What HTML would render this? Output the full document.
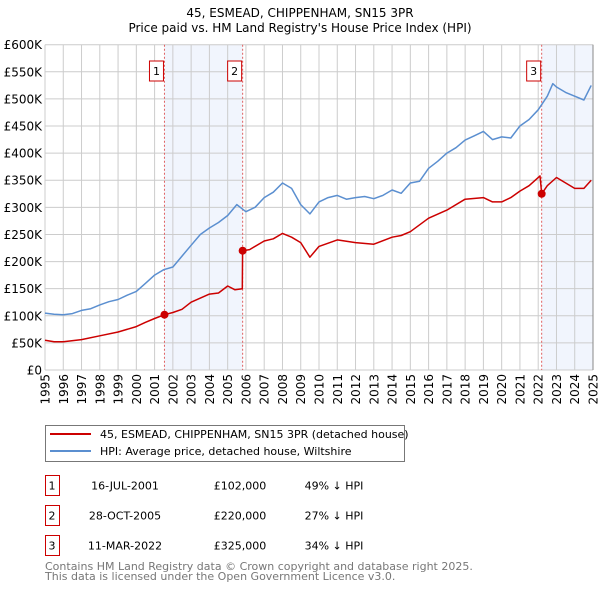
<!DOCTYPE html>
<html><head><meta charset="utf-8"><style>
body{margin:0;background:#fff;}
svg{display:block;font-family:"DejaVu Sans","Liberation Sans",sans-serif;}
</style></head><body>
<svg id="c" width="600" height="590"></svg>
<script>
const hpiYears=[1995,1995.5,1996,1996.5,1997,1997.5,1998,1998.5,1999,1999.5,2000,2000.5,2001,2001.5,2002,2002.5,2003,2003.5,2004,2004.5,2005,2005.5,2006,2006.5,2007,2007.5,2008,2008.5,2009,2009.5,2010,2010.5,2011,2011.5,2012,2012.5,2013,2013.5,2014,2014.5,2015,2015.5,2016,2016.5,2017,2017.5,2018,2018.5,2019,2019.5,2020,2020.5,2021,2021.5,2022,2022.5,2022.8,2023,2023.5,2024,2024.5,2024.9];
const hpiValues=[105,103,102,104,110,113,120,126,130,138,145,160,175,185,190,210,230,250,262,272,285,305,292,300,318,328,345,335,305,288,310,318,322,315,318,320,316,322,332,326,345,348,372,385,400,410,424,432,440,425,430,428,450,462,480,505,528,522,512,505,498,525];
const ppYears=[1995,1995.5,1996,1997,1998,1999,2000,2000.5,2001,2001.54,2002,2002.5,2003,2004,2004.5,2005,2005.4,2005.8,2005.82,2006.2,2007,2007.5,2008,2008.5,2009,2009.5,2010,2011,2012,2013,2014,2014.5,2015,2016,2017,2018,2019,2019.5,2020,2020.5,2021,2021.5,2022.1,2022.19,2022.5,2023,2024,2024.5,2024.9];
const ppValues=[55,52,52,56,63,70,80,88,95,102,106,112,125,140,142,155,148,150,220,222,238,242,252,245,235,208,228,240,235,232,245,248,255,280,295,315,318,310,310,318,330,340,358,325,340,355,335,335,350];
const saleYears=[2001.54,2005.82,2022.19];
const saleValues=[102,220,325];
const saleLabels=["1","2","3"];
const yTicks=[0,50,100,150,200,250,300,350,400,450,500,550,600];
const xTicks=[1995,1996,1997,1998,1999,2000,2001,2002,2003,2004,2005,2006,2007,2008,2009,2010,2011,2012,2013,2014,2015,2016,2017,2018,2019,2020,2021,2022,2023,2024,2025];
const rows=[["1","16-JUL-2001","£102,000","49% ↓ HPI"],["2","28-OCT-2005","£220,000","27% ↓ HPI"],["3","11-MAR-2022","£325,000","34% ↓ HPI"]];

const X0=45,X1=593,Y0=370,Y1=44.7;
const xs=v=>X0+(v-1995)/30*(X1-X0);
const ys=v=>Y0-v/600*(Y0-Y1);
const svg=document.getElementById('c');
const NS='http://www.w3.org/2000/svg';
function mk(t,a,p){const e=document.createElementNS(NS,t);for(const k in a)e.setAttribute(k,a[k]);(p||svg).appendChild(e);return e;}

let t=mk('text',{x:300,y:17,'text-anchor':'middle','font-size':12});t.textContent='45, ESMEAD, CHIPPENHAM, SN15 3PR';


t=mk('text',{x:300,y:32,'text-anchor':'middle','font-size':12});t.textContent="Price paid vs. HM Land Registry's House Price Index (HPI)";



// shaded regions
let r=mk('rect',{x:xs(saleYears[0]),y:Y1,width:xs(saleYears[1])-xs(saleYears[0]),height:Y0-Y1,fill:'#eef3fc',opacity:0.8});


r=mk('rect',{x:xs(saleYears[2]),y:Y1,width:X1-xs(saleYears[2]),height:Y0-Y1,fill:'#eef3fc',opacity:0.8});



yTicks.forEach(v=>{
  const l=mk('line',{x1:X0,x2:X1,y1:ys(v),y2:ys(v),stroke:'#cccccc','stroke-width':1});
  
  
  const tx=mk('text',{x:X0-3,y:ys(v)+4.5,'text-anchor':'end','font-size':12});
  tx.textContent=v===0?'£0':'£'+v+'K';
  
  
});
xTicks.forEach(v=>{
  const l=mk('line',{x1:xs(v),x2:xs(v),y1:Y1,y2:Y0,stroke:'#cccccc','stroke-width':1});
  
  
  const tx=mk('text',{x:0,y:0,'text-anchor':'end','font-size':12,transform:`translate(${xs(v)+4.5},${Y0+4}) rotate(-90)`});
  tx.textContent=v;
  
  
});

saleYears.forEach((v,i)=>{
  const l=mk('line',{x1:xs(v),x2:xs(v),y1:Y1,y2:Y0,stroke:'#e06060','stroke-width':1,'stroke-dasharray':'2,2'});
  
  
  const b=mk('rect',{x:xs(v)-15,y:61,width:14,height:20,fill:'#fff',stroke:'#cc0000','stroke-width':1});
  
  
  const tx=mk('text',{x:xs(v)-8,y:75,'text-anchor':'middle','font-size':11});
  tx.textContent=saleLabels[i];
  
  
});

function path(xa,va,col,name){
  const d=xa.map((x,i)=>(i?'L':'M')+xs(x).toFixed(1)+','+ys(va[i]).toFixed(1)).join(' ');
  const p=mk('path',{d:d,fill:'none',stroke:col,'stroke-width':1.5,'stroke-linejoin':'round'});
  
  
}
path(hpiYears,hpiValues,'#5b8fd0','hpi-line');
path(ppYears,ppValues,'#cc0000','price-paid-line');
saleYears.forEach((v,i)=>{
  const c=mk('circle',{cx:xs(v),cy:ys(saleValues[i]),r:4,fill:'#cc0000'});
  
  
});
let ax=mk('line',{x1:X1,x2:X1,y1:Y1,y2:Y0,stroke:'#888','stroke-width':1});



// legend
const lg=mk('g',{});


mk('rect',{x:45.5,y:425.5,width:359,height:36,fill:'#fff',stroke:'#777'},lg);
let e=mk('line',{x1:50,x2:91,y1:434,y2:434,stroke:'#cc0000','stroke-width':2},lg);


e=mk('text',{x:100,y:438,'font-size':11},lg);e.textContent='45, ESMEAD, CHIPPENHAM, SN15 3PR (detached house)';


e=mk('line',{x1:50,x2:91,y1:451,y2:451,stroke:'#5b8fd0','stroke-width':2},lg);


e=mk('text',{x:100,y:455,'font-size':11},lg);e.textContent='HPI: Average price, detached house, Wiltshire';



rows.forEach((row,i)=>{
  const y=475.5+i*30;
  const b=mk('rect',{x:45.5,y:y,width:14,height:20,fill:'#fff',stroke:'#cc0000'});
  
  
  const cols=[[52,'middle'],[125,'middle'],[240,'middle'],[334,'middle']];
  row.forEach((txt,j)=>{
    const tx=mk('text',{x:cols[j][0],y:y+14,'text-anchor':cols[j][1],'font-size':11});
    tx.textContent=txt;
    
    
  });
});
e=mk('text',{x:45,y:570,'font-size':11,fill:'#777'});e.textContent='Contains HM Land Registry data © Crown copyright and database right 2025.';


e=mk('text',{x:45,y:580,'font-size':11,fill:'#777'});e.textContent='This data is licensed under the Open Government Licence v3.0.';


</script>
</body></html>
